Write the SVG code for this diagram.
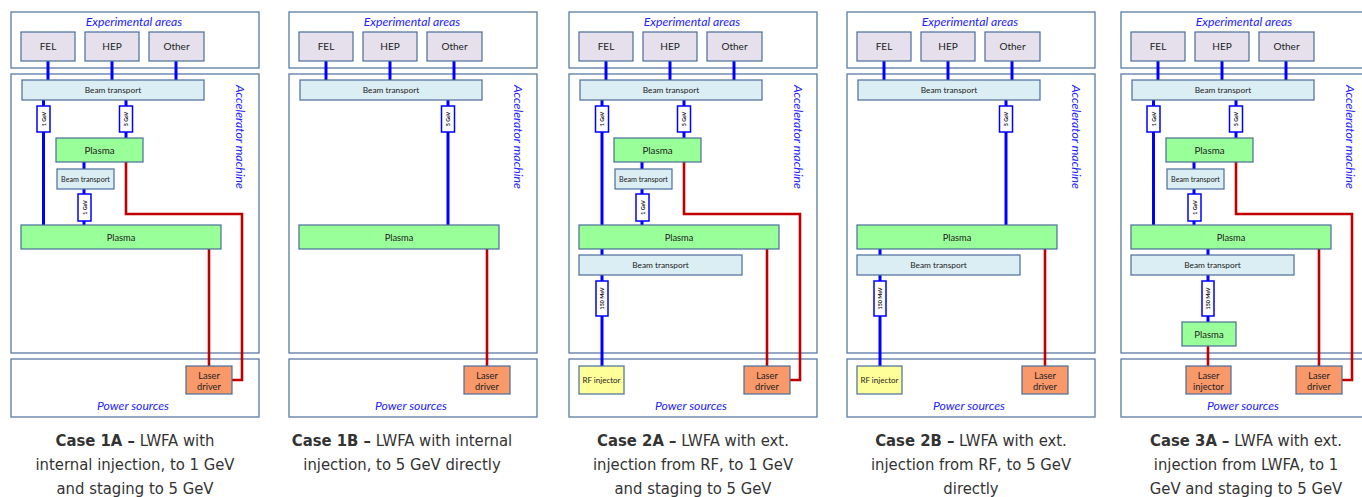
<svg xmlns="http://www.w3.org/2000/svg" width="1362" height="497" viewBox="0 0 1362 497">
<style>
.area{fill:#fff;stroke:#5b7aa3;stroke-width:1.3}
.exp{fill:#e5e0ec;stroke:#4a6d99;stroke-width:1.2}
.bt{fill:#dbeef4;stroke:#4a6d99;stroke-width:1.2}
.pl{fill:#99ff99;stroke:#4a6d99;stroke-width:1.2}
.ls{fill:#f9996a;stroke:#4a6d99;stroke-width:1.2}
.rf{fill:#ffff99;stroke:#4a6d99;stroke-width:1.2}
.en{fill:#fff;stroke:#0000ff;stroke-width:1.5}
.bl{stroke:#0000ff;stroke-width:3;fill:none}
.rd{stroke:#c00000;stroke-width:2.6;fill:none}
.t{font-family:Lato,"Open Sans",sans-serif;fill:#222;text-anchor:middle}
.lbl{font-family:Lato,"Open Sans",sans-serif;font-style:italic;fill:#2222ff;text-anchor:middle;font-size:12.2px}
.et{font-family:Lato,"Open Sans",sans-serif;font-weight:bold;font-size:5.4px;fill:#111;text-anchor:middle}
.cap{font-family:"Liberation Sans Narrow","DejaVu Sans Condensed",sans-serif;font-size:16.5px;fill:#333;text-anchor:middle}
.cap tspan.b{font-weight:bold}
</style>

<!-- area frames and area labels -->
<g id="areas">
  <rect class="area" x="11" y="12" width="248" height="56"/>
  <rect class="area" x="11" y="74" width="248" height="279"/>
  <rect class="area" x="11" y="359" width="248" height="58"/>
  <rect class="area" x="289" y="12" width="248" height="56"/>
  <rect class="area" x="289" y="74" width="248" height="279"/>
  <rect class="area" x="289" y="359" width="248" height="58"/>
  <rect class="area" x="569" y="12" width="248" height="56"/>
  <rect class="area" x="569" y="74" width="248" height="279"/>
  <rect class="area" x="569" y="359" width="248" height="58"/>
  <rect class="area" x="847" y="12" width="248" height="56"/>
  <rect class="area" x="847" y="74" width="248" height="279"/>
  <rect class="area" x="847" y="359" width="248" height="58"/>
  <rect class="area" x="1121" y="12" width="248" height="56"/>
  <rect class="area" x="1121" y="74" width="248" height="279"/>
  <rect class="area" x="1121" y="359" width="248" height="58"/>
  <text class="lbl" x="134" y="26">Experimental areas</text>
  <text class="lbl" x="412" y="26">Experimental areas</text>
  <text class="lbl" x="692" y="26">Experimental areas</text>
  <text class="lbl" x="970" y="26">Experimental areas</text>
  <text class="lbl" x="1244" y="26">Experimental areas</text>
  <text class="lbl" x="133" y="410">Power sources</text>
  <text class="lbl" x="411" y="410">Power sources</text>
  <text class="lbl" x="691" y="410">Power sources</text>
  <text class="lbl" x="969" y="410">Power sources</text>
  <text class="lbl" x="1243" y="410">Power sources</text>
  <text class="lbl" style="font-size:12.3px" transform="translate(236,137) rotate(90)">Accelerator machine</text>
  <text class="lbl" style="font-size:12.3px" transform="translate(514,137) rotate(90)">Accelerator machine</text>
  <text class="lbl" style="font-size:12.3px" transform="translate(794,137) rotate(90)">Accelerator machine</text>
  <text class="lbl" style="font-size:12.3px" transform="translate(1072,137) rotate(90)">Accelerator machine</text>
  <text class="lbl" style="font-size:12.3px" transform="translate(1346,137) rotate(90)">Accelerator machine</text>
</g>

<!-- connectors -->
<g id="connectors">
  <!-- panel 1 -->
  <path class="bl" d="M48 61V80M112 61V80M176 61V80"/>
  <path class="bl" d="M43.5 100V225M126 100V138M84 162V169M84 189V225"/>
  <path class="rd" d="M126 162V214H242V380H232"/>
  <path class="rd" d="M209 249V366"/>
  <!-- panel 2 -->
  <path class="bl" d="M326 61V80M390 61V80M454 61V80"/>
  <path class="bl" d="M448 100V225"/>
  <path class="rd" d="M487 249V366"/>
  <!-- panel 3 -->
  <path class="bl" d="M606 61V80M670 61V80M734 61V80"/>
  <path class="bl" d="M602 100V366M684 100V138M642 162V169M642 189V225"/>
  <path class="rd" d="M684 162V214H800V380H790"/>
  <path class="rd" d="M767 249V366"/>
  <!-- panel 4 -->
  <path class="bl" d="M884 61V80M948 61V80M1012 61V80"/>
  <path class="bl" d="M1006 100V225M880 249V366"/>
  <path class="rd" d="M1045 249V366"/>
  <!-- panel 5 -->
  <path class="bl" d="M1158 61V80M1222 61V80M1286 61V80"/>
  <path class="bl" d="M1153.5 100V225M1236 100V138M1194 162V169M1194 189V225M1208 249V322"/>
  <path class="rd" d="M1236 162V214H1352V380H1342"/>
  <path class="rd" d="M1319 249V366M1208 346V366"/>
</g>

<!-- Panel 1 -->
<g id="p1">
  <g id="p1-fel"><rect class="exp" x="21" y="32" width="54" height="29"/><text class="t" x="48" y="50" font-size="10">FEL</text></g>
  <g id="p1-hep"><rect class="exp" x="85" y="32" width="54" height="29"/><text class="t" x="112" y="50" font-size="10">HEP</text></g>
  <g id="p1-other"><rect class="exp" x="149" y="32" width="55" height="29"/><text class="t" x="176.5" y="50" font-size="10">Other</text></g>
  <g id="p1-bt"><rect class="bt" x="22" y="80" width="182" height="20"/><text class="t" x="113" y="93" font-size="8.3">Beam transport</text></g>
  <g id="p1-e1"><rect class="en" x="37" y="106" width="13" height="26"/><text class="et" transform="translate(45.5,119) rotate(-90)">1 GeV</text></g>
  <g id="p1-e5"><rect class="en" x="119.5" y="106" width="13" height="26"/><text class="et" transform="translate(128,119) rotate(-90)">5 GeV</text></g>
  <g id="p1-plasma1"><rect class="pl" x="56" y="138" width="87" height="24"/><text class="t" x="99.5" y="153.5" font-size="9.8">Plasma</text></g>
  <g id="p1-bt2"><rect class="bt" x="57" y="169" width="57" height="20"/><text class="t" x="85.5" y="181.5" font-size="7.2">Beam transport</text></g>
  <g id="p1-e1b"><rect class="en" x="78" y="194" width="13" height="27"/><text class="et" transform="translate(86.5,207.5) rotate(-90)">1 GeV</text></g>
  <g id="p1-plasma2"><rect class="pl" x="21" y="225" width="200" height="24"/><text class="t" x="121" y="240.5" font-size="9.3">Plasma</text></g>
  <g id="p1-laser"><rect class="ls" x="186" y="366" width="46" height="28"/><text class="t" x="209" y="378.5" font-size="9.3">Laser</text><text class="t" x="209" y="389.5" font-size="9.3">driver</text></g>
</g>

<!-- Panel 2 -->
<g id="p2">
  <g id="p2-fel"><rect class="exp" x="299" y="32" width="54" height="29"/><text class="t" x="326" y="50" font-size="10">FEL</text></g>
  <g id="p2-hep"><rect class="exp" x="363" y="32" width="54" height="29"/><text class="t" x="390" y="50" font-size="10">HEP</text></g>
  <g id="p2-other"><rect class="exp" x="427" y="32" width="55" height="29"/><text class="t" x="454.5" y="50" font-size="10">Other</text></g>
  <g id="p2-bt"><rect class="bt" x="300" y="80" width="182" height="20"/><text class="t" x="391" y="93" font-size="8.3">Beam transport</text></g>
  <g id="p2-e5"><rect class="en" x="441.5" y="106" width="13" height="26"/><text class="et" transform="translate(450,119) rotate(-90)">5 GeV</text></g>
  <g id="p2-plasma"><rect class="pl" x="299" y="225" width="200" height="24"/><text class="t" x="399" y="240.5" font-size="9.3">Plasma</text></g>
  <g id="p2-laser"><rect class="ls" x="464" y="366" width="46" height="28"/><text class="t" x="487" y="378.5" font-size="9.3">Laser</text><text class="t" x="487" y="389.5" font-size="9.3">driver</text></g>
</g>

<!-- Panel 3 -->
<g id="p3">
  <g id="p3-fel"><rect class="exp" x="579" y="32" width="54" height="29"/><text class="t" x="606" y="50" font-size="10">FEL</text></g>
  <g id="p3-hep"><rect class="exp" x="643" y="32" width="54" height="29"/><text class="t" x="670" y="50" font-size="10">HEP</text></g>
  <g id="p3-other"><rect class="exp" x="707" y="32" width="55" height="29"/><text class="t" x="734.5" y="50" font-size="10">Other</text></g>
  <g id="p3-bt"><rect class="bt" x="580" y="80" width="182" height="20"/><text class="t" x="671" y="93" font-size="8.3">Beam transport</text></g>
  <g id="p3-e1"><rect class="en" x="595.5" y="106" width="13" height="26"/><text class="et" transform="translate(604,119) rotate(-90)">1 GeV</text></g>
  <g id="p3-e5"><rect class="en" x="677.5" y="106" width="13" height="26"/><text class="et" transform="translate(686,119) rotate(-90)">5 GeV</text></g>
  <g id="p3-plasma1"><rect class="pl" x="614" y="138" width="87" height="24"/><text class="t" x="657.5" y="153.5" font-size="9.8">Plasma</text></g>
  <g id="p3-bt2"><rect class="bt" x="615" y="169" width="57" height="20"/><text class="t" x="643.5" y="181.5" font-size="7.2">Beam transport</text></g>
  <g id="p3-e1b"><rect class="en" x="636" y="194" width="13" height="27"/><text class="et" transform="translate(644.5,207.5) rotate(-90)">1 GeV</text></g>
  <g id="p3-plasma2"><rect class="pl" x="579" y="225" width="200" height="24"/><text class="t" x="679" y="240.5" font-size="9.3">Plasma</text></g>
  <g id="p3-bt3"><rect class="bt" x="579" y="255" width="163" height="20"/><text class="t" x="660.5" y="268" font-size="8.3">Beam transport</text></g>
  <g id="p3-e150"><rect class="en" x="596" y="281" width="12" height="35"/><text class="et" transform="translate(604,298.5) rotate(-90)">150 MeV</text></g>
  <g id="p3-rf"><rect class="rf" x="579" y="366" width="45" height="28"/><text class="t" x="601.5" y="383" font-size="8">RF injector</text></g>
  <g id="p3-laser"><rect class="ls" x="744" y="366" width="46" height="28"/><text class="t" x="767" y="378.5" font-size="9.3">Laser</text><text class="t" x="767" y="389.5" font-size="9.3">driver</text></g>
</g>

<!-- Panel 4 -->
<g id="p4">
  <g id="p4-fel"><rect class="exp" x="857" y="32" width="54" height="29"/><text class="t" x="884" y="50" font-size="10">FEL</text></g>
  <g id="p4-hep"><rect class="exp" x="921" y="32" width="54" height="29"/><text class="t" x="948" y="50" font-size="10">HEP</text></g>
  <g id="p4-other"><rect class="exp" x="985" y="32" width="55" height="29"/><text class="t" x="1012.5" y="50" font-size="10">Other</text></g>
  <g id="p4-bt"><rect class="bt" x="858" y="80" width="182" height="20"/><text class="t" x="949" y="93" font-size="8.3">Beam transport</text></g>
  <g id="p4-e5"><rect class="en" x="999.5" y="106" width="13" height="26"/><text class="et" transform="translate(1008,119) rotate(-90)">5 GeV</text></g>
  <g id="p4-plasma"><rect class="pl" x="857" y="225" width="200" height="24"/><text class="t" x="957" y="240.5" font-size="9.3">Plasma</text></g>
  <g id="p4-bt2"><rect class="bt" x="857" y="255" width="163" height="20"/><text class="t" x="938.5" y="268" font-size="8.3">Beam transport</text></g>
  <g id="p4-e150"><rect class="en" x="874" y="281" width="12" height="35"/><text class="et" transform="translate(882,298.5) rotate(-90)">150 MeV</text></g>
  <g id="p4-rf"><rect class="rf" x="857" y="366" width="45" height="28"/><text class="t" x="879.5" y="383" font-size="8">RF injector</text></g>
  <g id="p4-laser"><rect class="ls" x="1022" y="366" width="46" height="28"/><text class="t" x="1045" y="378.5" font-size="9.3">Laser</text><text class="t" x="1045" y="389.5" font-size="9.3">driver</text></g>
</g>

<!-- Panel 5 -->
<g id="p5">
  <g id="p5-fel"><rect class="exp" x="1131" y="32" width="54" height="29"/><text class="t" x="1158" y="50" font-size="10">FEL</text></g>
  <g id="p5-hep"><rect class="exp" x="1195" y="32" width="54" height="29"/><text class="t" x="1222" y="50" font-size="10">HEP</text></g>
  <g id="p5-other"><rect class="exp" x="1259" y="32" width="55" height="29"/><text class="t" x="1286.5" y="50" font-size="10">Other</text></g>
  <g id="p5-bt"><rect class="bt" x="1132" y="80" width="182" height="20"/><text class="t" x="1223" y="93" font-size="8.3">Beam transport</text></g>
  <g id="p5-e1"><rect class="en" x="1147" y="106" width="13" height="26"/><text class="et" transform="translate(1155.5,119) rotate(-90)">1 GeV</text></g>
  <g id="p5-e5"><rect class="en" x="1229.5" y="106" width="13" height="26"/><text class="et" transform="translate(1238,119) rotate(-90)">5 GeV</text></g>
  <g id="p5-plasma1"><rect class="pl" x="1166" y="138" width="87" height="24"/><text class="t" x="1209.5" y="153.5" font-size="9.8">Plasma</text></g>
  <g id="p5-bt2"><rect class="bt" x="1167" y="169" width="57" height="20"/><text class="t" x="1195.5" y="181.5" font-size="7.2">Beam transport</text></g>
  <g id="p5-e1b"><rect class="en" x="1188" y="194" width="13" height="27"/><text class="et" transform="translate(1196.5,207.5) rotate(-90)">1 GeV</text></g>
  <g id="p5-plasma2"><rect class="pl" x="1131" y="225" width="200" height="24"/><text class="t" x="1231" y="240.5" font-size="9.3">Plasma</text></g>
  <g id="p5-bt3"><rect class="bt" x="1131" y="255" width="163" height="20"/><text class="t" x="1212.5" y="268" font-size="8.3">Beam transport</text></g>
  <g id="p5-e150"><rect class="en" x="1202" y="281" width="12" height="35"/><text class="et" transform="translate(1210,298.5) rotate(-90)">150 MeV</text></g>
  <g id="p5-plasma3"><rect class="pl" x="1182" y="322" width="54" height="24"/><text class="t" x="1209" y="337.5" font-size="9.5">Plasma</text></g>
  <g id="p5-linj"><rect class="ls" x="1186" y="366" width="45" height="28"/><text class="t" x="1208.5" y="378.5" font-size="9.3">Laser</text><text class="t" x="1208.5" y="389.5" font-size="9.3">injector</text></g>
  <g id="p5-laser"><rect class="ls" x="1296" y="366" width="46" height="28"/><text class="t" x="1319" y="378.5" font-size="9.3">Laser</text><text class="t" x="1319" y="389.5" font-size="9.3">driver</text></g>
</g>

<!-- captions -->
<g id="captions">
  <text class="cap" x="135" y="446"><tspan class="b">Case 1A –</tspan> LWFA  with</text>
  <text class="cap" x="135" y="470">internal injection, to 1 GeV</text>
  <text class="cap" x="135" y="494">and staging to 5 GeV</text>
  <text class="cap" x="402" y="446"><tspan class="b">Case 1B –</tspan> LWFA  with internal</text>
  <text class="cap" x="402" y="470">injection, to 5 GeV directly</text>
  <text class="cap" x="693" y="446"><tspan class="b">Case 2A –</tspan> LWFA with ext.</text>
  <text class="cap" x="693" y="470">injection from RF, to 1 GeV</text>
  <text class="cap" x="693" y="494">and staging to 5 GeV</text>
  <text class="cap" x="971" y="446"><tspan class="b">Case 2B –</tspan> LWFA with ext.</text>
  <text class="cap" x="971" y="470">injection from RF, to 5 GeV</text>
  <text class="cap" x="971" y="494">directly</text>
  <text class="cap" x="1246" y="446"><tspan class="b">Case 3A –</tspan> LWFA with ext.</text>
  <text class="cap" x="1246" y="470">injection from LWFA, to 1</text>
  <text class="cap" x="1246" y="494">GeV and staging to 5 GeV</text>
</g>
</svg>
